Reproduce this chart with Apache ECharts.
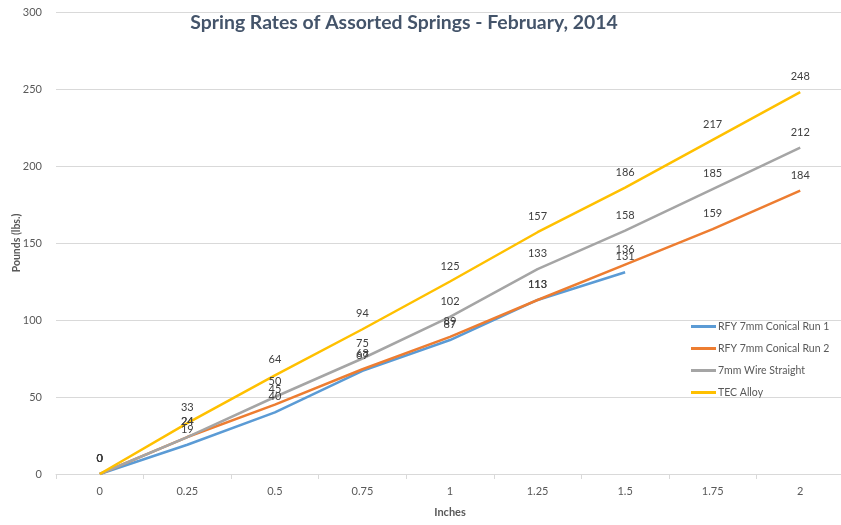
<!DOCTYPE html>
<html>
<head>
<meta charset="utf-8">
<script src="https://cdn.jsdelivr.net/npm/echarts@6/dist/echarts.min.js"></script>
<style>html,body{margin:0;padding:0;background:#fff}#c{width:841px;height:525px}</style>
</head>
<body>
<div id="c"></div>
<script>
const categories = ['0','0.25','0.5','0.75','1','1.25','1.5','1.75','2'];
const run1 = [0, 19, 40, 67, 87, 113, 131];
const run2 = [0, 24, 45, 68, 89, 113, 136, 159, 184];
const wire = [0, 24, 50, 75, 102, 133, 158, 185, 212];
const tec = [0, 33, 64, 94, 125, 157, 186, 217, 248];
const yTicks = {min: 0, max: 300, interval: 50};

const font = 'Lato, "Open Sans", sans-serif';
function mk(name, data, color) {
  return {
    name, type: 'line', data, symbol: 'circle', symbolSize: 0.01, showSymbol: true, smooth: false,
    lineStyle: {width: 2.5, color}, itemStyle: {color},
    label: {show: true, position: 'top', distance: 10, color: '#404040', fontSize: 11, fontFamily: font},
    labelLayout: {hideOverlap: false},
    emphasis: {disabled: true}
  };
}
const chart = echarts.init(document.getElementById('c'));
chart.setOption({
  animation: false,
  title: {
    text: 'Spring Rates of Assorted Springs - February, 2014',
    left: 399, top: 8, textAlign: 'center',
    textStyle: {color: '#44546A', fontSize: 19.4, fontWeight: 'bold', fontFamily: font}
  },
  legend: {
    orient: 'vertical', left: 686, top: 316, itemGap: 11, itemWidth: 25, itemHeight: 3,
    icon: 'rect',
    textStyle: {color: '#595959', fontSize: 10.5, fontFamily: font, padding: [0,0,0,-3]},
    data: ['RFY 7mm Conical Run 1','RFY 7mm Conical Run 2','7mm Wire Straight','TEC Alloy']
  },
  grid: {left: 56, right: -3, top: 12, bottom: 51, containLabel: false, outerBoundsMode: 'none'},
  xAxis: {
    type: 'category', data: categories, boundaryGap: true,
    name: 'Inches', nameLocation: 'middle', nameGap: 33, nameMoveOverlap: false,
    nameTextStyle: {color: '#595959', fontSize: 11, fontWeight: 'bold', fontFamily: font},
    axisLine: {lineStyle: {color: '#D9D9D9'}},
    axisTick: {show: true, lineStyle: {color: '#D9D9D9'}, length: 5},
    axisLabel: {color: '#595959', fontSize: 11, fontFamily: font, margin: 12}
  },
  yAxis: {
    type: 'value', min: yTicks.min, max: yTicks.max, interval: yTicks.interval,
    name: 'Pounds (lbs.)', nameLocation: 'middle', nameGap: 34, nameMoveOverlap: false,
    nameTextStyle: {color: '#595959', fontSize: 10.5, fontWeight: 'bold', fontFamily: font},
    axisLine: {show: false}, axisTick: {show: false},
    axisLabel: {color: '#595959', fontSize: 11, fontFamily: font, margin: 14},
    splitLine: {lineStyle: {color: '#D9D9D9'}}
  },
  series: [
    mk('RFY 7mm Conical Run 1', run1, '#5B9BD5'),
    mk('RFY 7mm Conical Run 2', run2, '#ED7D31'),
    mk('7mm Wire Straight', wire, '#A5A5A5'),
    mk('TEC Alloy', tec, '#FFC000')
  ]
});
</script>
</body>
</html>
